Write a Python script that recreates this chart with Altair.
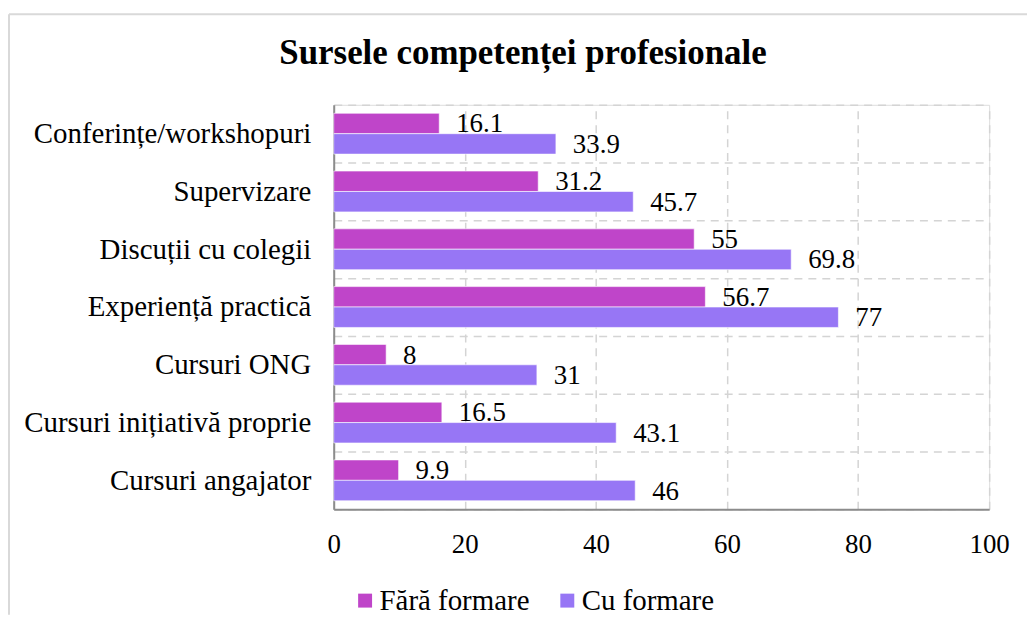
import altair as alt
import pandas as pd

categories = [
    "Conferințe/workshopuri",
    "Supervizare",
    "Discuții cu colegii",
    "Experiență practică",
    "Cursuri ONG",
    "Cursuri inițiativă proprie",
    "Cursuri angajator",
]
series = ["Fără formare", "Cu formare"]
fara_formare = [16.1, 31.2, 55, 56.7, 8, 16.5, 9.9]
cu_formare = [33.9, 45.7, 69.8, 77, 31, 43.1, 46]
colors = ["#BF45C9", "#9776F5"]
title_text = "Sursele competenței profesionale"

rows = []
for c, a, b in zip(categories, fara_formare, cu_formare):
    rows.append({"cat": c, "ser": series[0], "val": a, "lab": f"{a:g}"})
    rows.append({"cat": c, "ser": series[1], "val": b, "lab": f"{b:g}"})
df = pd.DataFrame(rows)

FONT = "Liberation Serif"

y_enc = alt.Y(
    "cat:N",
    sort=categories,
    title=None,
    scale=alt.Scale(paddingInner=0, paddingOuter=0),
    axis=alt.Axis(
        tickBand="extent",
        grid=True,
        gridDash=[8, 6],
        gridColor="#d4d4d4",
        gridWidth=1.5,
        ticks=False,
        tickSize=0,
        domain=True,
        domainColor="#8c8c8c",
        domainWidth=2,
        labelFont=FONT,
        labelFontSize=29,
        labelColor="#000000",
        labelPadding=23,
        labelLimit=500,
    ),
)
yoff_enc = alt.YOffset(
    "ser:N",
    sort=series,
    scale=alt.Scale(paddingInner=0, paddingOuter=0.415),
)
x_enc = alt.X(
    "val:Q",
    title=None,
    scale=alt.Scale(domain=[0, 100], nice=False),
    axis=alt.Axis(
        values=[0, 20, 40, 60, 80, 100],
        grid=True,
        gridDash=[8, 6],
        gridColor="#d4d4d4",
        gridWidth=1.5,
        ticks=False,
        tickSize=0,
        domainColor="#8c8c8c",
        domainWidth=2,
        labelFont=FONT,
        labelFontSize=27,
        labelColor="#000000",
        labelPadding=22,
        labelFlush=False,
    ),
)

base = alt.Chart(df)

bars = base.mark_bar(stroke="white", strokeWidth=0.6).encode(
    x=x_enc,
    y=y_enc,
    yOffset=yoff_enc,
    color=alt.Color(
        "ser:N",
        sort=series,
        scale=alt.Scale(domain=series, range=colors),
        legend=alt.Legend(
            title=None,
            orient="none",
            legendX=17,
            legendY=483,
            direction="horizontal",
            symbolType="square",
            symbolSize=196,
            symbolStrokeWidth=0,
            labelFont=FONT,
            labelFontSize=29,
            labelColor="#000000",
            labelOffset=0,
            columnPadding=23,
            padding=0,
        ),
    ),
)

labels = base.mark_text(
    align="left", baseline="middle", dx=17, dy=1, font=FONT, fontSize=27, color="#000000"
).encode(
    x="val:Q",
    y=alt.Y("cat:N", sort=categories),
    yOffset=alt.YOffset("ser:N", sort=series),
    text="lab:N",
)

frame_df = pd.DataFrame({"f": [0]})
frame_top = alt.Chart(frame_df).mark_rule(stroke="#d9d9d9", strokeWidth=2).encode(
    x=alt.value(-326), x2=alt.value(696), y=alt.value(-91)
)
frame_left = alt.Chart(frame_df).mark_rule(stroke="#d9d9d9", strokeWidth=2).encode(
    x=alt.value(-326), y=alt.value(-91), y2=alt.value(512)
)

chart = (
    alt.layer(frame_top, frame_left, bars, labels)
    .properties(
        width=658,
        height=406,
        autosize=alt.AutoSizeParams(type="none"),
        padding={"left": 327, "top": 96, "right": 38, "bottom": 106},
        title=alt.TitleParams(
            title_text,
            font=FONT,
            fontSize=35,
            fontWeight="bold",
            color="#000000",
            anchor="middle",
            frame="group",
            baseline="alphabetic",
            offset=0,
            dx=-139,
            dy=86,
        ),
    )
    .configure_view(stroke=None)
    .configure(font=FONT)
)

chart.save("out.html", embed_options={"renderer": "svg", "actions": False})
